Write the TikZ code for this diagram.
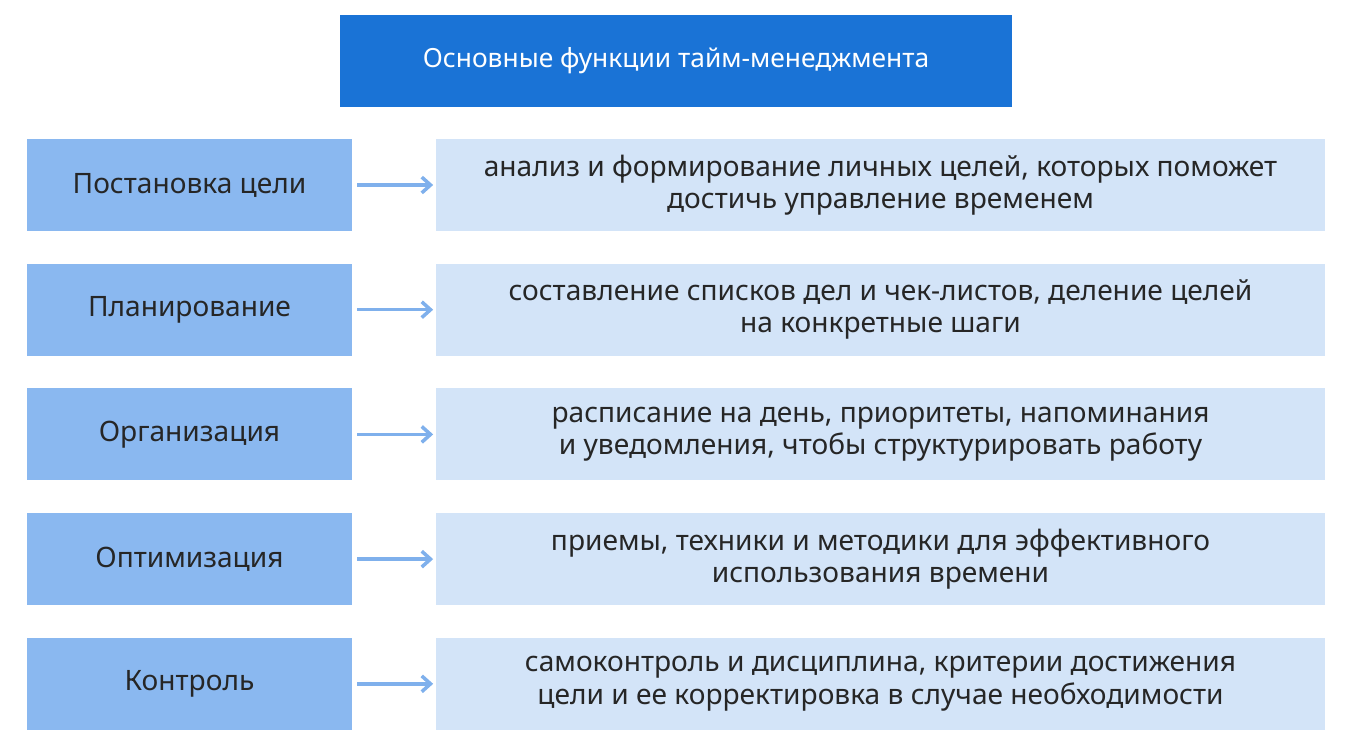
\documentclass[tikz,border=0pt]{standalone}
\usepackage{fontspec}
\setmainfont{Noto Sans}
\usetikzlibrary{positioning,arrows.meta}
\definecolor{titleblue}{HTML}{1A73D6}
\definecolor{leftblue}{HTML}{8AB8F0}
\definecolor{rightblue}{HTML}{D3E4F8}
\definecolor{arrowblue}{HTML}{7FB0EC}
\tikzstyle{title}=[rectangle, fill=titleblue, text=white, font=\fontsize{15}{18}\selectfont\bfseries, minimum width=13.44cm, minimum height=1.84cm]
\tikzstyle{func}=[rectangle, fill=leftblue, text=black!85, font=\fontsize{16}{19}\selectfont, minimum width=6.5cm, minimum height=1.84cm]
\tikzstyle{desc}=[rectangle, fill=rightblue, text=black!85, font=\fontsize{16}{18.5}\selectfont, align=center, minimum width=17.78cm, minimum height=1.84cm]
\tikzstyle{myarrow}=[-{Straight Barb[length=5pt,width=9pt]}, line width=2pt, draw=arrowblue]

\begin{document}
\begin{tikzpicture}[node distance=0.64cm]
        \useasboundingbox (0,0) rectangle (27.04,-14.92);

        \node (title) [title] at (13.52,-1.22) {Основные функции тайм-менеджмента};

        % Functions
        \node (goal) [func] at (3.79,-3.70) {Постановка цели};
        \node (plan) [func, below=of goal] {Планирование};
        \node (organize) [func, below=of plan] {Организация};
        \node (optimize) [func, below=of organize] {Оптимизация};
        \node (control) [func, below=of optimize] {Контроль};

        % Descriptions
        \node (goal_desc) [desc] at (17.61,-3.70) {анализ и формирование личных целей, которых поможет\\достичь управление временем};
        \node (plan_desc) [desc, below=of goal_desc] {составление списков дел и чек-листов, деление целей\\на конкретные шаги};
        \node (organize_desc) [desc, below=of plan_desc] {расписание на день, приоритеты, напоминания\\и уведомления, чтобы структурировать работу};
        \node (optimize_desc) [desc, below=of organize_desc] {приемы, техники и методики для эффективного\\использования времени};
        \node (control_desc) [desc, below=of optimize_desc] {самоконтроль и дисциплина, критерии достижения\\цели и ее корректировка в случае необходимости};

        %Arrows
        \draw[myarrow] ([xshift=0.1cm]goal.east) -- ([xshift=-0.05cm]goal_desc.west);
        \draw[myarrow] ([xshift=0.1cm]plan.east) -- ([xshift=-0.05cm]plan_desc.west);
        \draw[myarrow] ([xshift=0.1cm]organize.east) -- ([xshift=-0.05cm]organize_desc.west);
        \draw[myarrow] ([xshift=0.1cm]optimize.east) -- ([xshift=-0.05cm]optimize_desc.west);
        \draw[myarrow] ([xshift=0.1cm]control.east) -- ([xshift=-0.05cm]control_desc.west);
\end{tikzpicture}
\end{document}
